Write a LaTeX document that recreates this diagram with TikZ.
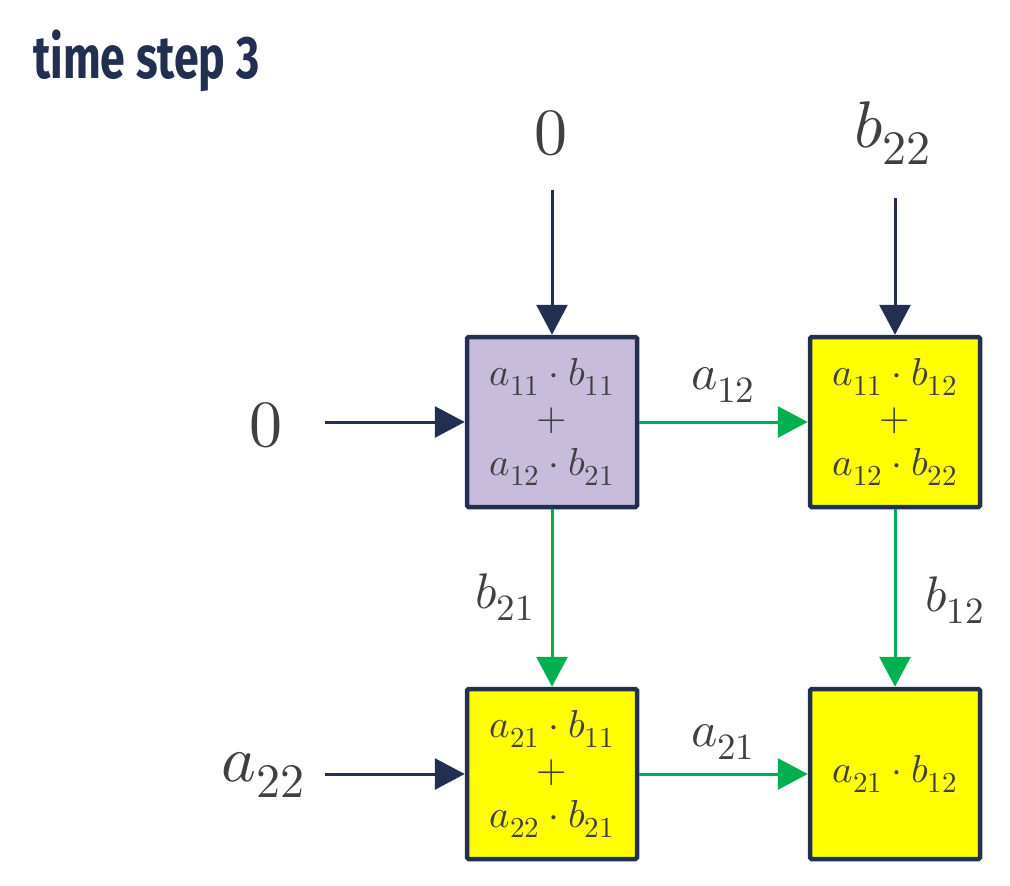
\documentclass[tikz,border=0pt]{standalone}
\usepackage{fontspec}
\usepackage{unicode-math}
\setmathfont{Latin Modern Math}
\DeclareMathSizes{39}{39}{29}{22}
\DeclareMathSizes{50}{50}{37}{28}
\DeclareMathSizes{66}{66}{48}{36}
\usetikzlibrary{arrows.meta}
\definecolor{navy}{HTML}{232F50}
\definecolor{grn}{HTML}{00B050}
\definecolor{lav}{HTML}{C8BCDC}
\definecolor{yel}{HTML}{FFFF00}
\definecolor{txt}{HTML}{404040}
\newfontfamily\titlefont{Fira Sans}
\begin{document}
\begin{tikzpicture}[x=1pt,y=-1pt,
  cell/.style={draw=navy,line width=4.5pt,minimum size=170pt,inner sep=0pt,rounded corners=1.5pt,
    align=center,text=txt,font=\fontsize{39}{45}\selectfont},
  big/.style={text=txt,font=\fontsize{66}{72}\selectfont,inner sep=0pt},
  lbl/.style={text=txt,font=\fontsize{50}{56}\selectfont,inner sep=0pt},
  inarrow/.style={draw=navy,line width=3pt,-{Triangle[length=30pt,width=31pt]}},
  garrow/.style={draw=grn,line width=3pt,-{Triangle[length=30pt,width=31pt]}}]
\useasboundingbox (0,0) rectangle (1010,886);
\node[anchor=base west,text=navy,inner sep=0pt] (title) at (33,78)
  {\scalebox{0.745}[1]{\titlefont\fontsize{60}{70}\selectfont\bfseries time step 3}};
\node[cell,fill=lav] (c11) at (552,422) {$a_{11}\cdot b_{11}$\\$+$\\$a_{12}\cdot b_{21}$};
\node[cell,fill=yel] (c12) at (895,422) {$a_{11}\cdot b_{12}$\\$+$\\$a_{12}\cdot b_{22}$};
\node[cell,fill=yel] (c21) at (552,774) {$a_{21}\cdot b_{11}$\\$+$\\$a_{22}\cdot b_{21}$};
\node[cell,fill=yel] (c22) at (895,774) {$a_{21}\cdot b_{12}$};
\node[big] (t1) at (551,133) {$0$};
\node[big] (t2) at (893,133) {$b_{22}$};
\node[big] (l1) at (266,425) {$0$};
\node[big] (l2) at (263,775) {$a_{22}$};
\coordinate (t1e) at (552,190);
\coordinate (t2e) at (895,198);
\coordinate (l1e) at (325,422);
\coordinate (l2e) at (325,774);
\draw[inarrow] (t1e) -- (c11.north);
\draw[inarrow] (t2e) -- (c12.north);
\draw[inarrow] (l1e) -- (c11.west);
\draw[inarrow] (l2e) -- (c21.west);
\draw[garrow] (c11.east) -- (c12.west);
\draw[garrow] (c21.east) -- (c22.west);
\draw[garrow] (c11.south) -- (c21.north);
\draw[garrow] (c12.south) -- (c22.north);
\node[lbl] (la12) at (723,385) {$a_{12}$};
\node[lbl] (la21) at (723,742) {$a_{21}$};
\node[lbl] (lb21) at (505,597) {$b_{21}$};
\node[lbl] (lb12) at (955,600) {$b_{12}$};
\end{tikzpicture}
\end{document}
